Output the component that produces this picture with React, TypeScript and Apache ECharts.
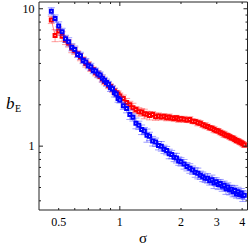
import React, { useEffect, useRef } from "react";
import * as echarts from "echarts";

const sigma = [
  0.46, 0.48, 0.5, 0.52, 0.54, 0.56, 0.58, 0.6, 0.62, 0.64, 0.66, 0.68, 0.7, 0.72, 0.74, 0.76, 0.78, 0.8, 0.82, 0.84, 0.86, 0.88, 0.9, 0.92, 0.94, 0.96, 0.98, 1.0,
  1.04, 1.08, 1.12, 1.16, 1.2, 1.24, 1.28, 1.32, 1.36, 1.4, 1.45, 1.5, 1.55, 1.6, 1.65, 1.7, 1.75, 1.8, 1.85, 1.9, 1.95, 2.0,
  2.07, 2.14, 2.21, 2.28, 2.35, 2.42, 2.49, 2.56, 2.63, 2.7, 2.77, 2.84, 2.91, 2.98, 3.05, 3.12, 3.19, 3.26, 3.33, 3.4, 3.47, 3.54, 3.61, 3.68, 3.75, 3.82, 3.89, 3.96, 4.03, 4.1,
];

const redB = [
  8.3, 6.4, 6.9, 6.3, 5.9, 5.6, 5.15, 4.95, 4.7, 4.45, 4.25, 4.0, 3.92, 3.68, 3.62, 3.42, 3.34, 3.22, 3.08, 2.95, 2.88, 2.76, 2.72, 2.6, 2.52, 2.45, 2.4, 2.32,
  2.22, 2.08, 2.0, 1.9, 1.85, 1.78, 1.77, 1.72, 1.71, 1.67, 1.7, 1.64, 1.66, 1.63, 1.65, 1.61, 1.63, 1.6, 1.59, 1.61, 1.57, 1.58,
  1.57, 1.55, 1.56, 1.52, 1.51, 1.48, 1.47, 1.43, 1.41, 1.39, 1.36, 1.35, 1.32, 1.3, 1.29, 1.26, 1.24, 1.22, 1.2, 1.19, 1.17, 1.15, 1.14, 1.12, 1.1, 1.09, 1.07, 1.06, 1.04, 1.02,
];

const redErr = [
  0.06, 0.1, 0.07, 0.08, 0.07, 0.06, 0.07, 0.06, 0.05, 0.06, 0.05, 0.06, 0.05, 0.05, 0.04, 0.05, 0.05, 0.04, 0.05, 0.05, 0.04, 0.05, 0.04, 0.05, 0.05, 0.04, 0.05, 0.05,
  0.06, 0.07, 0.06, 0.08, 0.05, 0.07, 0.06, 0.08, 0.05, 0.07, 0.05, 0.06, 0.05, 0.05, 0.04, 0.05, 0.05, 0.04, 0.05, 0.04, 0.05, 0.04,
  0.05, 0.04, 0.05, 0.04, 0.04, 0.05, 0.04, 0.04, 0.05, 0.04, 0.04, 0.04, 0.05, 0.04, 0.04, 0.04, 0.04, 0.05, 0.04, 0.04, 0.04, 0.04, 0.04, 0.04, 0.04, 0.04, 0.04, 0.04, 0.04, 0.04,
];

const blueB = [
  9.6, 8.5, 7.5, 6.8, 6.05, 5.75, 5.25, 5.05, 4.65, 4.55, 4.2, 4.1, 3.85, 3.78, 3.55, 3.52, 3.35, 3.3, 3.12, 3.02, 2.9, 2.82, 2.66, 2.62, 2.45, 2.4, 2.22, 2.17,
  1.97, 1.88, 1.7, 1.62, 1.47, 1.42, 1.32, 1.29, 1.2, 1.18, 1.09, 1.07, 1.01, 1.0, 0.95, 0.93, 0.88, 0.87, 0.83, 0.82, 0.78, 0.77,
  0.74, 0.71, 0.69, 0.67, 0.645, 0.635, 0.615, 0.6, 0.585, 0.585, 0.56, 0.57, 0.54, 0.55, 0.525, 0.535, 0.51, 0.52, 0.49, 0.505, 0.48, 0.485, 0.465, 0.475, 0.45, 0.465, 0.445, 0.455, 0.435, 0.44,
];

const blueErr = [
  0.06, 0.06, 0.07, 0.06, 0.06, 0.07, 0.06, 0.06, 0.05, 0.06, 0.05, 0.06, 0.05, 0.06, 0.05, 0.05, 0.06, 0.05, 0.06, 0.05, 0.06, 0.05, 0.06, 0.05, 0.07, 0.05, 0.06, 0.05,
  0.06, 0.07, 0.08, 0.06, 0.09, 0.07, 0.08, 0.06, 0.11, 0.07, 0.08, 0.07, 0.07, 0.08, 0.07, 0.07, 0.08, 0.07, 0.07, 0.08, 0.07, 0.07,
  0.08, 0.07, 0.08, 0.07, 0.08, 0.09, 0.07, 0.08, 0.07, 0.08, 0.07, 0.08, 0.09, 0.07, 0.08, 0.07, 0.08, 0.07, 0.09, 0.07, 0.08, 0.07, 0.08, 0.09, 0.07, 0.08, 0.07, 0.08, 0.09, 0.07,
];

const xMajorTicks = [1];
const xMinorTicks = [0.5, 0.6, 0.7, 0.8, 0.9, 2, 3, 4];
const xTickLabels = [0.5, 1, 2, 3, 4];
const yMajorTicks = [1, 10];
const yMinorTicks = [0.4, 0.5, 0.6, 0.7, 0.8, 0.9, 2, 3, 4, 5, 6, 7, 8, 9];
const yTickLabels = [1, 10];

const X_MIN = 0.4;
const X_MAX = 4.25;
const Y_MIN = 0.343;
const Y_MAX = 11.2;

const FONT = "'Liberation Serif', 'DejaVu Serif', serif";

function errorRender(color: string) {
  return (params: any, api: any) => {
    const x = api.value(0);
    const a = api.coord([x, api.value(1)]);
    const b = api.coord([x, api.value(2)]);
    const w = 3.5;
    const style = { stroke: color, lineWidth: 1 };
    return {
      type: "group",
      children: [
        { type: "line", shape: { x1: a[0], y1: a[1], x2: b[0], y2: b[1] }, style },
        { type: "line", shape: { x1: a[0] - w, y1: a[1], x2: a[0] + w, y2: a[1] }, style },
        { type: "line", shape: { x1: b[0] - w, y1: b[1], x2: b[0] + w, y2: b[1] }, style },
      ],
    };
  };
}

export default function App() {
  const ref = useRef<HTMLDivElement>(null);
  useEffect(() => {
    const chart = echarts.init(ref.current!, null, { renderer: "svg" });

    const tickData: number[][] = [
      ...xMajorTicks.map((v) => [v, 1, 0]),
      ...xMinorTicks.map((v) => [v, 1, 1]),
      ...yMajorTicks.map((v) => [1, v, 2]),
      ...yMinorTicks.map((v) => [1, v, 3]),
      ...xTickLabels.map((v) => [v, 1, 4]),
      ...yTickLabels.map((v) => [1, v, 5]),
    ];

    const tickRender = (params: any, api: any) => {
      const cs = params.coordSys;
      const kind = api.value(2);
      const p = api.coord([api.value(0), api.value(1)]);
      const bottom = cs.y + cs.height;
      const right = cs.x + cs.width;
      const style = { stroke: "#222", lineWidth: 1 };
      if (kind === 0 || kind === 1) {
        const len = kind === 0 ? 4 : 2;
        return {
          type: "group",
          children: [
            { type: "line", shape: { x1: p[0], y1: bottom, x2: p[0], y2: bottom - len }, style },
            { type: "line", shape: { x1: p[0], y1: cs.y, x2: p[0], y2: cs.y + len }, style },
          ],
        };
      }
      if (kind === 2 || kind === 3) {
        const len = kind === 2 ? 4 : 2;
        return {
          type: "group",
          children: [
            { type: "line", shape: { x1: cs.x, y1: p[1], x2: cs.x + len, y2: p[1] }, style },
            { type: "line", shape: { x1: right, y1: p[1], x2: right - len, y2: p[1] }, style },
          ],
        };
      }
      if (kind === 4) {
        return {
          type: "text",
          x: p[0],
          y: bottom + 12,
          style: { text: String(api.value(0)), fill: "#000", fontSize: 12, fontFamily: FONT, align: "center", verticalAlign: "middle" },
        };
      }
      return {
        type: "text",
        x: cs.x - 4.5,
        y: p[1],
        style: { text: String(api.value(1)), fill: "#000", fontSize: 12, fontFamily: FONT, align: "right", verticalAlign: "middle" },
      };
    };

    const redErrData = sigma.map((s, i) => [s, redB[i] * (1 - redErr[i]), redB[i] * (1 + redErr[i])]);
    const blueErrData = sigma.map((s, i) => [s, blueB[i] * (1 - blueErr[i]), blueB[i] * (1 + blueErr[i])]);

    chart.setOption({
      animation: false,
      grid: { left: 39, right: 1.5, top: 2, bottom: 36, show: true, borderColor: "#222", borderWidth: 1, backgroundColor: "transparent" },
      xAxis: {
        type: "log", logBase: 10, min: X_MIN, max: X_MAX,
        axisLine: { show: false }, axisTick: { show: false }, axisLabel: { show: false }, splitLine: { show: false },
      },
      yAxis: {
        type: "log", logBase: 10, min: Y_MIN, max: Y_MAX,
        axisLine: { show: false }, axisTick: { show: false }, axisLabel: { show: false }, splitLine: { show: false },
      },
      graphic: [
        { type: "text", x: 143, y: 237.5, style: { text: "σ", fill: "#000", fontSize: 15, fontFamily: FONT, align: "center", verticalAlign: "middle" } },
        { type: "text", x: 6, y: 103, style: { text: "b", fill: "#000", fontSize: 17, fontStyle: "italic", fontFamily: FONT, align: "left", verticalAlign: "middle" } },
        { type: "text", x: 15, y: 108.5, style: { text: "E", fill: "#000", fontSize: 10, fontFamily: FONT, align: "left", verticalAlign: "middle" } },
      ],
      series: [
        { type: "custom", name: "redErr", renderItem: errorRender("rgba(255,40,40,0.45)"), data: redErrData, encode: { x: 0, y: [1, 2] }, z: 2 },
        {
          type: "line", name: "red", data: sigma.map((s, i) => [s, redB[i]]),
          symbol: "emptyRect", symbolSize: 3,
          itemStyle: { color: "#ff0000", borderWidth: 0.8 },
          lineStyle: { color: "#ff0000", width: 0.5 }, z: 3,
        },
        { type: "custom", name: "blueErr", renderItem: errorRender("rgba(40,40,255,0.45)"), data: blueErrData, encode: { x: 0, y: [1, 2] }, z: 4 },
        {
          type: "line", name: "blue", data: sigma.map((s, i) => [s, blueB[i]]),
          symbol: "emptyRect", symbolSize: 3,
          itemStyle: { color: "#0000ff", borderWidth: 0.8 },
          lineStyle: { color: "#0000ff", width: 0.5 }, z: 5,
        },
        { type: "custom", name: "ticks", renderItem: tickRender, data: tickData, encode: { x: 0, y: 1 }, z: 10, silent: true },
      ],
    });

    return () => chart.dispose();
  }, []);

  return <div ref={ref} style={{ position: "absolute", left: 0, top: 0, width: 249, height: 246 }} />;
}
